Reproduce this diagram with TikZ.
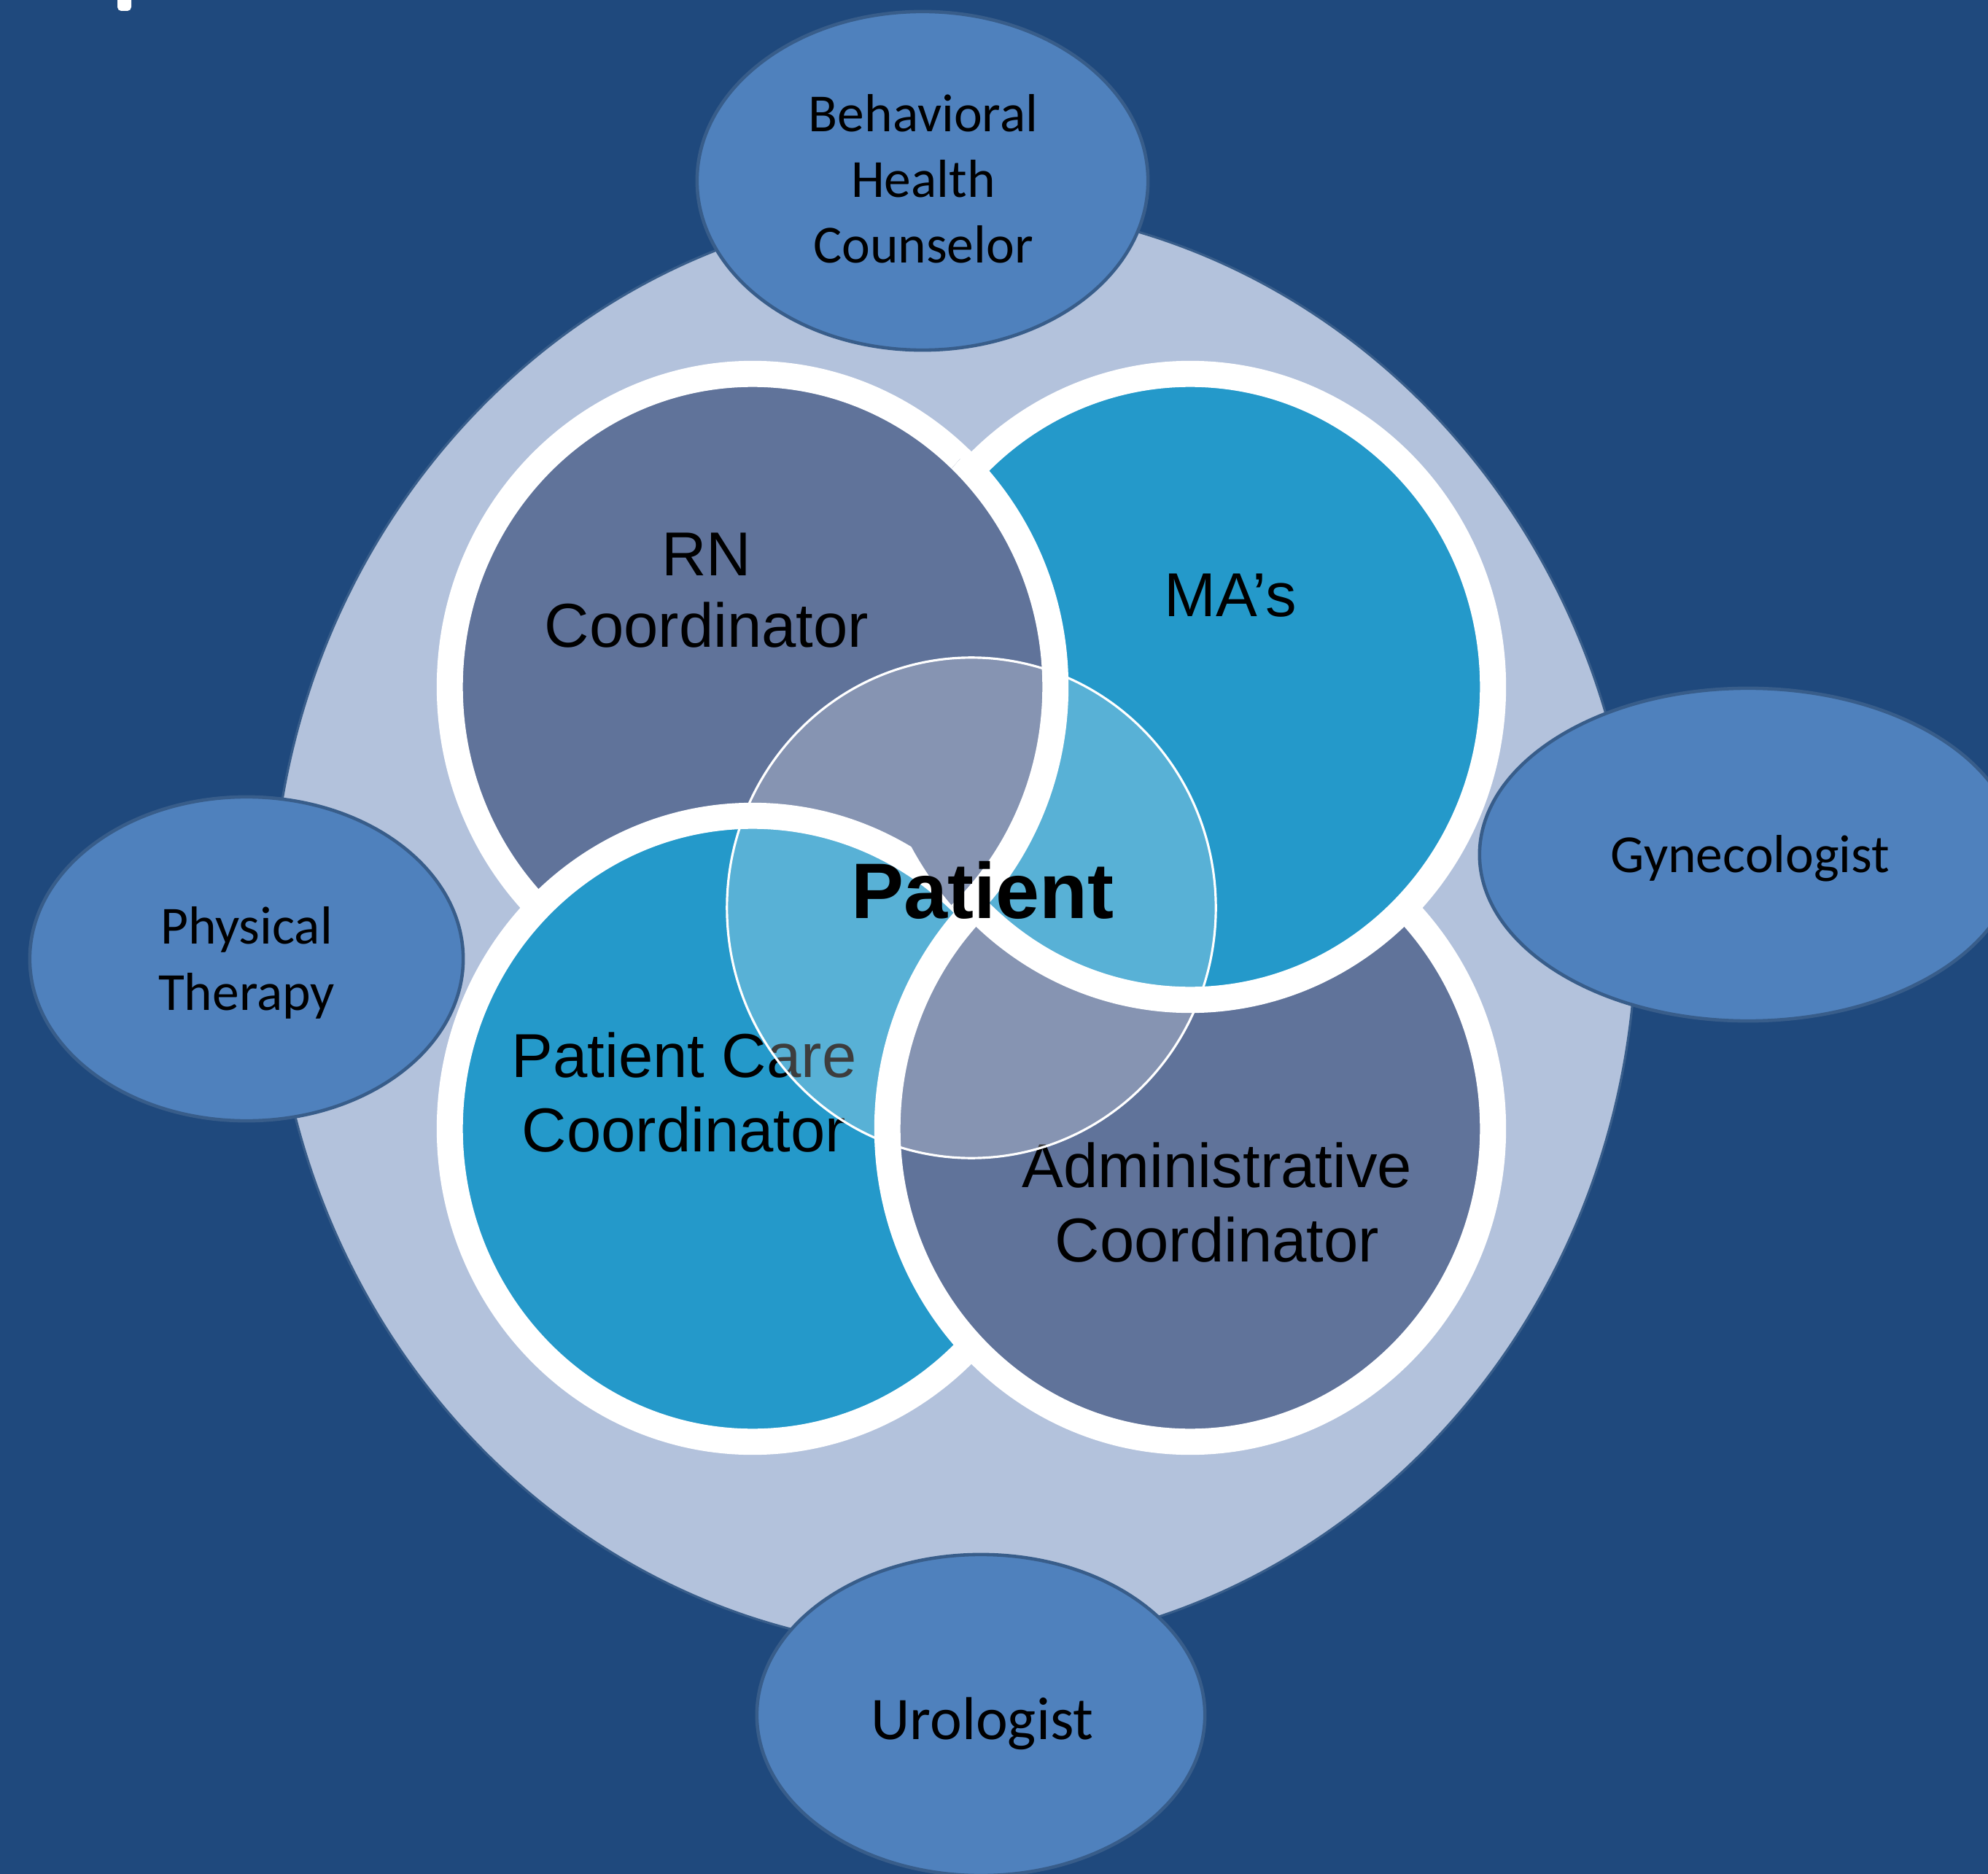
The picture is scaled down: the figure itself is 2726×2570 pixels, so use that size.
\documentclass[tikz,border=0pt]{standalone}
\usepackage{fontspec}
\setmainfont{Liberation Sans}
\newfontfamily\carlito{Carlito}
\usepackage{tikz}
\usetikzlibrary{shapes.geometric}
\definecolor{bgblue}{HTML}{1F497D}
\definecolor{ringcol}{HTML}{B3C2DC}
\definecolor{rim}{HTML}{385D8A}
\definecolor{slate}{HTML}{60739A}
\definecolor{cyanfill}{HTML}{2499CA}
\definecolor{satfill}{HTML}{4F81BD}
\tikzset{
  member/.style    = { draw=white, line width=10.2pt },
  satellite/.style = { ellipse, draw=rim, line width=1.3pt, fill=satfill, inner sep=0pt },
  role/.style      = { font=\fontsize{24.2}{27.6}\selectfont, align=center, anchor=base, inner sep=0pt },
  role2/.style     = { font=\fontsize{24.2}{29}\selectfont, align=center, anchor=base, inner sep=0pt },
  satlabel/.style  = { font=\carlito\fontsize{20.9}{25.6}\selectfont, align=center, anchor=base, inner sep=0pt }
}

\begin{document}
\begin{tikzpicture}[x=0.01cm, y=-0.01cm]
\useasboundingbox (0,0) rectangle (2726,2570);
\clip (0,0) rectangle (2726,2570);
\fill[bgblue] (0,0) rectangle (2726,2570);
\fill[white, rounded corners=1.5pt] (161,-10) rectangle (180,15);

\coordinate (ring) at (1308,1272);
\coordinate (rn) at (1032,942);
\coordinate (ma) at (1632,942);
\coordinate (pc) at (1032,1548);
\coordinate (ad) at (1632,1548);
\coordinate (hub) at (1332,1245);

\draw[rim, line width=0.9pt, fill=ringcol] (ring) ellipse [x radius=9.35cm, y radius=9.9cm];

\node[satellite, minimum width=6.18cm, minimum height=4.64cm] (bh) at (1265,248) {};
\node[satellite, minimum width=7.36cm, minimum height=4.56cm] (gy) at (2397,1172) {};
\node[satellite, minimum width=5.94cm, minimum height=4.44cm] (pt) at (338,1315) {};
\node[satellite, minimum width=6.14cm, minimum height=4.40cm] (ur) at (1345,2352) {};

\draw[member, fill=slate] (rn) ellipse [x radius=4.15cm, y radius=4.29cm];
\draw[member, fill=cyanfill] (pc) ellipse [x radius=4.15cm, y radius=4.29cm];
\draw[member, fill=slate] (ad) ellipse [x radius=4.15cm, y radius=4.29cm];
\draw[member, fill=cyanfill] (ma) ellipse [x radius=4.15cm, y radius=4.29cm];
\begin{scope}
\clip (ma) ellipse [x radius=4.37cm, y radius=4.51cm];
\draw[member, fill=slate] (rn) ellipse [x radius=4.15cm, y radius=4.29cm];
\end{scope}

\node[role] (rn-text) at (969,887) {RN\\Coordinator};
\node[role] (ma-text) at (1687,845) {MA’s};
\node[role2] (pc-text) at (938,1579) {Patient Care\\Coordinator};
\node[role2] (ad-text) at (1669,1730) {Administrative\\Coordinator};

\draw[white, line width=0.9pt, fill=white, fill opacity=0.24] (hub) ellipse [x radius=3.35cm, y radius=3.43cm];
\node[anchor=base, inner sep=0pt, font=\bfseries\fontsize{30.7}{36}\selectfont] (patient) at (1347,1259) {Patient};

\node[satlabel] (bh-text) at (1266,361) {Behavioral\\Health\\Counselor};
\node[satlabel] (gy-text) at (2400,1196) {Gynecologist};
\node[satlabel] (pt-text) at (338,1385) {Physical\\Therapy};
\node[satlabel, font=\carlito\fontsize{23.6}{28}\selectfont] (ur-text) at (1347,2385) {Urologist};
\end{tikzpicture}
\end{document}
